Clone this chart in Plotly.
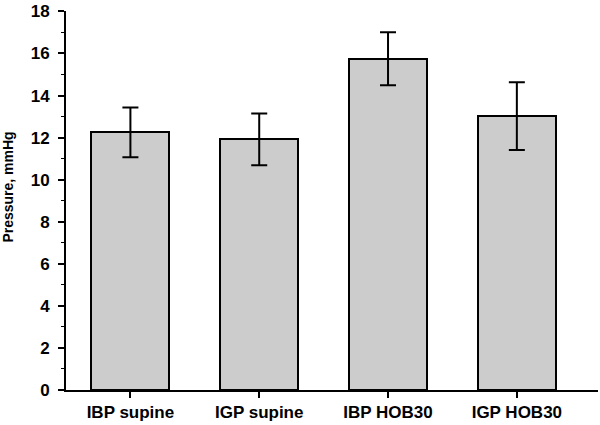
import plotly.graph_objects as go

categories = ["IBP supine", "IGP supine", "IBP HOB30", "IGP HOB30"]
means = [12.25, 11.92, 15.75, 13.02]
errors = [1.18, 1.23, 1.26, 1.61]
y_ticks = [0, 2, 4, 6, 8, 10, 12, 14, 16, 18]
y_title = "Pressure, mmHg"

font_family = "Liberation Sans, Arial, sans-serif"

fig = go.Figure(go.Bar(
    x=categories,
    y=means,
    width=0.605,
    marker=dict(color="#cccccc", line=dict(color="black", width=2)),
    error_y=dict(type="data", array=errors, visible=True,
                 color="black", thickness=2, width=8),
))

fig.update_layout(
    width=600, height=425,
    margin=dict(l=66, r=2, t=8, b=35),
    plot_bgcolor="white", paper_bgcolor="white",
    showlegend=False,
    font=dict(family=font_family, color="black", size=17, weight="bold"),
    bargap=0,
)
fig.update_xaxes(
    type="category",
    range=[-0.5, 3.63],
    showline=True, linecolor="black", linewidth=2,
    ticks="outside", ticklen=6, tickwidth=2, tickcolor="black",
    showgrid=False, zeroline=False,
    tickfont=dict(size=17, family=font_family, weight="bold"),
)
fig.update_yaxes(
    range=[0, 18.02],
    tickvals=y_ticks,
    showline=True, linecolor="black", linewidth=2,
    ticks="outside", ticklen=6, tickwidth=2, tickcolor="black",
    ticklabelstandoff=5,
    ticklabeloverflow="allow",
    minor=dict(ticks="outside", ticklen=3, tickwidth=1, tickcolor="black", dtick=1, showgrid=False),
    showgrid=False, zeroline=False,
    tickfont=dict(size=17, family=font_family, weight="bold"),
)
fig.add_annotation(
    text=y_title, xref="paper", yref="paper", x=0, y=0.534,
    xshift=-58, xanchor="center", yanchor="middle", textangle=-90,
    showarrow=False, font=dict(size=14, family=font_family, weight="bold"),
)

fig.write_html("out.html", config={"displayModeBar": False},
               post_script="document.body.style.margin='0';document.body.style.padding='0';")
